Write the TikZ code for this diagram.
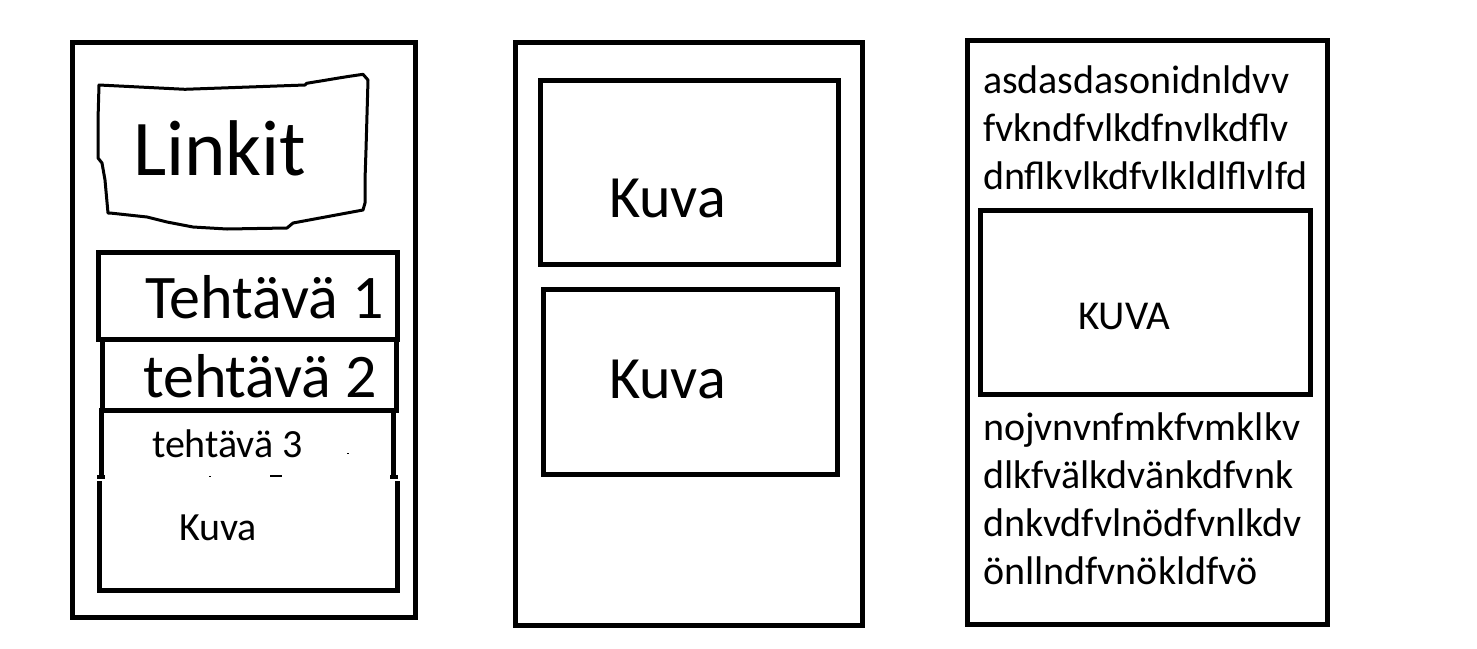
\documentclass[tikz,border=0pt]{standalone}
\usepackage{fontspec}
\setmainfont{Carlito}
\begin{document}
\begin{tikzpicture}[x=1pt,y=-1pt,
  frame/.style={draw=black,line width=5pt},
  lbl/.style={inner sep=0pt,outer sep=0pt,anchor=base west},
  big/.style={lbl,font=\fontsize{62}{72}\selectfont},
  mid/.style={lbl,font=\fontsize{60}{70}\selectfont},
  small/.style={lbl,font=\fontsize{40}{48}\selectfont}]
\useasboundingbox[fill=white] (0,0) rectangle (1477,648);

% ---------- left panel ----------
\draw[frame] (72.5,42.5) rectangle (415.5,617.5);
\draw[black,line width=3pt,line join=round]
  (99,85) -- (185,89.3) -- (305,85) -- (306.7,83.3) -- (346.7,76.7) -- (363,74.3) -- (368,80)
  -- (366,150) -- (365,180) -- (365,203) -- (363,210)
  -- (293,223) -- (287,228) -- (227,229) -- (193,227) -- (167,222) -- (147,217) -- (110,213)
  -- (108,213) -- (105,180) -- (102,163) -- (98,158) -- (98,120) -- cycle;
\node[lbl,font=\fontsize{79}{90}\selectfont] (linkit) at (133,175) {Linkit};

\draw[frame] (98.5,252.5) rectangle (397.5,339.5);
\node[big] (t1) at (145,318) {Tehtävä 1};
\draw[frame] (102.5,339.5) rectangle (396.5,410.5);
\node[big] (t2) at (143,397) {tehtävä 2};
\draw[frame] (101.5,479) -- (101.5,410.5) -- (393.5,410.5) -- (393.5,479);
\draw[black,line width=4pt] (97,477) -- (105,477);
\draw[black,line width=4pt] (390,477) -- (398,477);
\draw[black,line width=1.5pt] (270,476) -- (282,476);
\draw[black,line width=1pt] (209,476) -- (211,476);
\draw[black,line width=1pt] (347,453) -- (349,453);
\node[small] (t3) at (152,457) {tehtävä 3};
\draw[frame] (99.5,481) -- (99.5,590.5) -- (397.5,590.5) -- (397.5,481);
\node[small] (kuvaL) at (179,540) {Kuva};

% ---------- middle panel ----------
\draw[frame] (515.5,42.5) rectangle (862.5,625.5);
\draw[frame] (540.5,80.5) rectangle (838.5,264.5);
\node[mid] (kuvaA) at (609,217) {Kuva};
\draw[frame] (543.5,289.5) rectangle (837.5,474.5);
\node[mid] (kuvaB) at (609,398) {Kuva};

% ---------- right panel ----------
\draw[frame] (967.5,40) rectangle (1327.5,624.5);
\node[small] (r1) at (983,93) {asdasdasonidnldvv};
\node[small] (r2) at (983,141) {fvkndfvlkdfnvlkdflv};
\node[small] (r3) at (983,189) {dnflkvlkdfvlkldlflvlfd};
\draw[frame] (980.5,210.5) rectangle (1310.5,394.5);
\node[lbl,font=\fontsize{41}{48}\selectfont] (kuvaR) at (1078,329) {KUVA};
\node[small] (r4) at (983,440) {nojvnvnfmkfvmklkv};
\node[small] (r5) at (983,488) {dlkfvälkdvänkdfvnk};
\node[small] (r6) at (983,536) {dnkvdfvlnödfvnlkdv};
\node[small] (r7) at (983,584) {önllndfvnökldfvö};
\end{tikzpicture}
\end{document}
